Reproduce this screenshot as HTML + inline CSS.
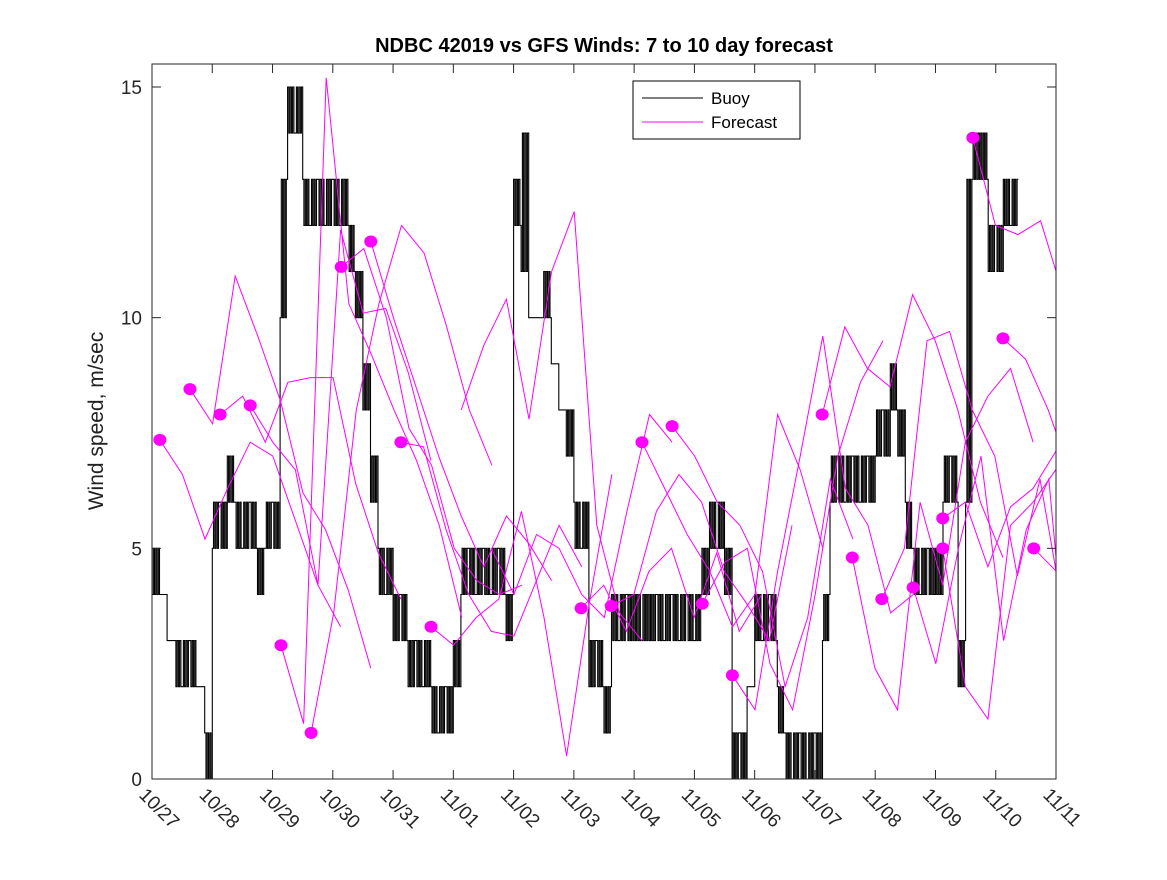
<!DOCTYPE html>
<html><head><meta charset="utf-8"><style>
body{margin:0;background:#fff;}
svg text{font-family:"Liberation Sans","DejaVu Sans",sans-serif;}
</style></head><body>
<svg id="c" width="1167" height="875" viewBox="0 0 1167 875" xmlns="http://www.w3.org/2000/svg">
<rect width="1167" height="875" fill="#fff"/>
<text x="604" y="52" text-anchor="middle" font-size="20" font-weight="bold" fill="#000">NDBC 42019 vs GFS Winds: 7 to 10 day forecast</text>
<text transform="translate(103,421) rotate(-90)" text-anchor="middle" font-size="21" fill="#222">Wind speed, m/sec</text>
<defs><clipPath id="pc"><rect x="152" y="64" width="904" height="715"/></clipPath></defs>
<g id="plot" clip-path="url(#pc)"></g>
<g id="axes"></g>
<g>
<rect x="633" y="81" width="167" height="58" fill="#fff" stroke="#000" stroke-width="1"/>
<line x1="642" y1="98" x2="703" y2="98" stroke="#000" stroke-width="1"/>
<text x="711" y="104" font-size="17" fill="#000">Buoy</text>
<line x1="642" y1="122" x2="703" y2="122" stroke="#f0f" stroke-width="1"/>
<text x="711" y="128" font-size="17" fill="#000">Forecast</text>
</g>
</svg>
<script>
// Buoy: wind speed every 3 hours from 10/27 00Z, plus the value it flickers to within each interval
const buoyValues = [
4,4,3,3,2,3,2,1,
5,6,7,6,5,6,4,5,
6,10,15,14,13,12,13,12,
13,12,12,10,8,6,5,4,
3,4,2,3,2,2,1,2,
3,4,5,4,5,4,5,3,
13,11,10,10,11,9,8,7,
6,5,2,3,1,4,3,4,
4,3,3,4,3,4,3,4,
3,5,6,5,4,0,1,2,
4,3,4,2,1,0,1,0,
1,3,6,7,6,7,6,7,
7,8,9,7,6,5,4,5,
5,6,7,2,6,14,14,11,
12,13,12];
const buoyAlt = [
5,4,3,2,3,2,2,0,
6,5,6,5,6,5,5,6,
5,13,14,15,12,13,12,13,
12,13,11,11,9,7,4,5,
4,3,3,2,3,1,2,1,
2,5,4,5,4,5,4,4,
12,14,10,10,10,9,8,8,
5,6,3,2,2,3,4,3,
3,4,4,3,4,3,4,3,
4,4,5,6,5,1,0,2,
3,4,3,1,0,1,0,1,
0,4,7,6,7,6,7,6,
8,7,8,8,5,4,5,4,
4,7,6,3,13,13,13,12,
11,12,13];
// Forecast start days (days since 10/27) and values every 0.375 day
const fcStart = [0.13,0.63,1.13,1.63,2.14,2.64,3.14,3.63,4.13,4.63,5.13,5.63,7.12,7.62,8.13,8.63,9.13,9.63,11.12,11.62,12.11,12.63,13.12,13.12,13.62,14.12,14.63];
const fcHasDot = [1,1,1,1,1,1,1,1,1,1,0,0,1,1,1,1,1,1,1,1,1,1,1,1,1,1,1];
const fcValues = [
[7.35,6.6,5.2,6.3,7.3,7.0,5.6,4.2,3.3],
[8.45,7.7,10.9,9.6,8.2,6.2,5.4,4.1,2.4],
[7.9,8.3,7.3,8.6,8.7,8.7,6.4,4.9,3.9],
[8.1,7.3,6.7,4.2,11.9,10.1,10.2,8.8,6.9],
[2.9,1.2,15.2,10.3,9.2,8.0,6.9,5.5,3.5],
[1.0,3.6,8.0,10.3,12.0,11.4,9.8,8.0,6.8],
[11.1,11.5,10.0,7.6,6.8,5.0,4.3,4.0,4.2],
[11.65,10.0,8.5,7.0,5.7,4.6,5.7,5.1,4.3],
[7.3,7.2,5.4,4.0,3.2,3.1,4.3,5.5,4.6],
[3.3,2.9,3.5,3.9,5.8,3.5,0.5,3.8,6.6],
[8.0,9.4,10.4,7.8,11.0,12.3,5.5,3.6,3.0],
[5.0,4.0,5.3,5.0,4.0,3.5,5.8,7.9,7.3],
[3.7,4.2,3.2,4.5,5.0,3.5,4.9,3.2,4.0],
[3.75,4.0,5.8,6.6,6.0,4.5,3.8,3.0,5.5],
[7.3,6.3,5.3,4.5,3.3,4.0,7.9,6.7,5.0],
[7.65,7.0,6.0,5.5,4.5,2.0,3.5,6.5,5.2],
[3.8,4.7,5.0,2.5,1.5,4.0,7.0,8.6,9.5],
[2.25,1.5,4.5,7.0,9.6,6.3,5.5,3.6,4.0],
[7.9,9.8,8.9,8.5,10.5,9.5,8.0,6.0,4.8],
[4.8,2.4,1.5,6.0,4.2,7.3,8.3,8.9,7.3],
[3.9,5.0,9.5,9.7,8.0,7.0,4.4,6.5,3.7],
[4.15,2.5,5.0,7.0,3.0,5.4,6.5,1.2,4.3],
[5.65,6.0,4.6,5.9,6.3,7.1,8.0,7.8,7.8],
[5.0,2.0,1.3,5.5,6.0,6.7,6.2,7.3,6.3],
[13.9,12.0,11.8,12.1,10.5,10.5,7.0,6.0,6.0],
[9.55,9.1,8.0,6.6,6.0,6.5,6.0,5.5,5.0],
[5.0,4.5,5.5,6.0,6.5,6.0,5.5,5.0,5.0]];
const xTickLabels = ["10/27","10/28","10/29","10/30","10/31","11/01","11/02","11/03","11/04","11/05","11/06","11/07","11/08","11/09","11/10","11/11"];
const yTicks = [0,5,10,15];

const X0=152,X1=1056,Y0=779,Y1=64;
const xs=d=>X0+d*(X1-X0)/15;
const ys=v=>Y0-v*(779-87)/15;
const NS="http://www.w3.org/2000/svg";
const plot=document.getElementById('plot'), axes=document.getElementById('axes');
function mk(tag,attrs,parent){const e=document.createElementNS(NS,tag);for(const k in attrs)e.setAttribute(k,attrs[k]);parent.appendChild(e);return e;}

// buoy step line with intra-interval flicker
let d="", first=true;
const SUB=6;
buoyValues.forEach((v,i)=>{
  const a=buoyAlt[i];
  for(let s=0;s<SUB;s++){
    const val=(a!==v && s%2===1)?a:v;
    const x1=xs(i*0.125+s*0.125/SUB),x2=xs(i*0.125+(s+1)*0.125/SUB),y=ys(val);
    d+=(first?"M":"L")+x1.toFixed(1)+","+y.toFixed(1)+"L"+x2.toFixed(1)+","+y.toFixed(1);
    first=false;
  }
});
const bl=mk('path',{d:d,fill:'none',stroke:'#000','stroke-width':1.1},plot);



fcValues.forEach((vals,j)=>{
  const t0=fcStart[j];
  const pts=vals.map((v,k)=>xs(t0+k*0.375).toFixed(1)+","+ys(v).toFixed(1)).join(" ");
  const pl=mk('polyline',{points:pts,fill:'none',stroke:'#f0f','stroke-width':1},plot);
  
  
  if(fcHasDot[j]){
    const c=mk('ellipse',{cx:xs(t0),cy:ys(vals[0]),rx:6.5,ry:6,fill:'#f0f'},plot);
    
    
  }
});

const box=mk('rect',{x:X0,y:Y1,width:X1-X0,height:Y0-Y1,fill:'none',stroke:'#262626','stroke-width':1},axes);


xTickLabels.forEach((lab,i)=>{
  const x=xs(i);
  mk('line',{x1:x,y1:Y0,x2:x,y2:Y0-9,stroke:'#262626'},axes);
  mk('line',{x1:x,y1:Y1,x2:x,y2:Y1+9,stroke:'#262626'},axes);
  const t=mk('text',{transform:`translate(${x-14},${Y0+17}) rotate(45)`,'font-size':19,fill:'#262626'},axes);
  t.textContent=lab;
  
  
});
yTicks.forEach(v=>{
  const y=ys(v);
  mk('line',{x1:X0,y1:y,x2:X0+9,y2:y,stroke:'#262626'},axes);
  mk('line',{x1:X1,y1:y,x2:X1-9,y2:y,stroke:'#262626'},axes);
  const t=mk('text',{x:X0-10,y:y+7,'text-anchor':'end','font-size':19,fill:'#262626'},axes);
  t.textContent=v;
  
  
});
</script>
</body></html>
